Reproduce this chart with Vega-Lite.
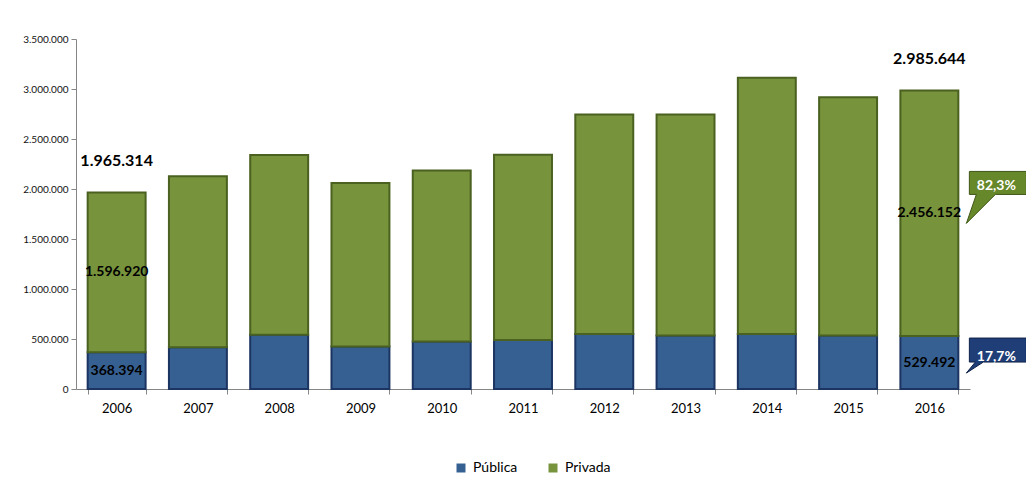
{
  "$schema": "https://vega.github.io/schema/vega-lite/v6.json",
  "width": 894,
  "height": 350,
  "autosize": {"type": "none"},
  "padding": {"left": 76, "top": 39, "right": 56, "bottom": 100},
  "background": "white",
  "config": {
    "locale": {"number": {"decimal": ",", "thousands": ".", "grouping": [3], "currency": ["", " €"]}},
    "view": {"stroke": null},
    "font": "Lato"
  },
  "data": {
    "values": [
      {"year": "2006", "tipo": "Pública", "value": 368394},
      {"year": "2006", "tipo": "Privada", "value": 1596920},
      {"year": "2007", "tipo": "Pública", "value": 418000},
      {"year": "2007", "tipo": "Privada", "value": 1710000},
      {"year": "2008", "tipo": "Pública", "value": 542000},
      {"year": "2008", "tipo": "Privada", "value": 1798000},
      {"year": "2009", "tipo": "Pública", "value": 424000},
      {"year": "2009", "tipo": "Privada", "value": 1635000},
      {"year": "2010", "tipo": "Pública", "value": 474000},
      {"year": "2010", "tipo": "Privada", "value": 1710000},
      {"year": "2011", "tipo": "Pública", "value": 491000},
      {"year": "2011", "tipo": "Privada", "value": 1852000},
      {"year": "2012", "tipo": "Pública", "value": 549000},
      {"year": "2012", "tipo": "Privada", "value": 2195000},
      {"year": "2013", "tipo": "Pública", "value": 535000},
      {"year": "2013", "tipo": "Privada", "value": 2209000},
      {"year": "2014", "tipo": "Pública", "value": 549000},
      {"year": "2014", "tipo": "Privada", "value": 2563000},
      {"year": "2015", "tipo": "Pública", "value": 535000},
      {"year": "2015", "tipo": "Privada", "value": 2383000},
      {"year": "2016", "tipo": "Pública", "value": 529492, "pct": "17,7%"},
      {"year": "2016", "tipo": "Privada", "value": 2456152, "pct": "82,3%"}
    ]
  },
  "layer": [
    {
      "mark": {"type": "bar", "strokeWidth": 2},
      "encoding": {
        "x": {
          "field": "year", "type": "ordinal",
          "scale": {"paddingInner": 0.287, "paddingOuter": 0.1435},
          "axis": {
            "title": null, "labelAngle": 0, "tickBand": "extent",
            "domainColor": "#868686", "tickColor": "#868686", "tickSize": 5,
            "labelFontSize": 13, "labelColor": "#000", "labelPadding": 8, "labelFont": "Lato"
          }
        },
        "y": {
          "field": "value", "type": "quantitative", "stack": "zero",
          "scale": {"domain": [0, 3500000], "nice": false},
          "axis": {
            "title": null,
            "values": [0, 500000, 1000000, 1500000, 2000000, 2500000, 3000000, 3500000],
            "format": ",d", "labelFontSize": 10, "labelColor": "#111", "labelFont": "Lato",
            "domainColor": "#868686", "tickColor": "#868686", "tickSize": 5,
            "grid": false, "labelPadding": 3
          }
        },
        "color": {
          "field": "tipo", "type": "nominal",
          "scale": {"domain": ["Pública", "Privada"], "range": ["#376092", "#77933c"]},
          "legend": {
            "title": null, "orient": "none", "legendX": 378, "legendY": 422,
            "direction": "horizontal", "symbolType": "square", "symbolSize": 81,
            "labelFontSize": 14, "labelFont": "Lato", "labelColor": "#000",
            "columnPadding": 28, "labelOffset": 5, "symbolStrokeWidth": 0
          }
        },
        "stroke": {
          "field": "tipo", "type": "nominal",
          "scale": {"domain": ["Pública", "Privada"], "range": ["#1b3461", "#4a6120"]},
          "legend": null
        },
        "order": {"field": "tipo", "sort": "descending"}
      }
    },
    {
      "transform": [{"filter": {"field": "year", "oneOf": ["2006", "2016"]}}],
      "mark": {"type": "text", "fontWeight": "bold", "fontSize": 14, "color": "#000", "font": "Lato"},
      "encoding": {
        "x": {"field": "year", "type": "ordinal"},
        "y": {"field": "value", "type": "quantitative", "stack": "zero", "bandPosition": 0.5},
        "detail": {"field": "tipo"},
        "order": {"field": "tipo", "sort": "descending"},
        "text": {"field": "value", "type": "quantitative", "format": ",d"}
      }
    },
    {
      "transform": [{"filter": {"field": "year", "oneOf": ["2006", "2016"]}}],
      "mark": {"type": "text", "fontWeight": "bold", "fontSize": 16, "color": "#000", "font": "Lato", "yOffset": -31},
      "encoding": {
        "x": {"field": "year", "type": "ordinal"},
        "y": {"aggregate": "sum", "field": "value", "type": "quantitative"},
        "text": {"aggregate": "sum", "field": "value", "type": "quantitative", "format": ",d"}
      }
    },
    {
      "transform": [
        {"filter": {"field": "year", "equal": "2016"}},
        {"stack": "value", "groupby": ["year"], "sort": [{"field": "tipo", "order": "descending"}], "as": ["v0", "v1"]},
        {"filter": {"field": "tipo", "equal": "Privada"}}
      ],
      "mark": {
        "type": "point", "filled": true, "opacity": 1, "size": 4, "strokeWidth": 1,
        "shape": "M40,81 L97,81 L97,104 L66,104 L37,133 L47,104 L40,104 Z",
        "fill": "#66882a", "stroke": "#3f5618"
      },
      "encoding": {
        "x": {"field": "year", "type": "ordinal"},
        "y": {"field": "v1", "type": "quantitative"}
      }
    },
    {
      "transform": [
        {"filter": {"field": "year", "equal": "2016"}},
        {"stack": "value", "groupby": ["year"], "sort": [{"field": "tipo", "order": "descending"}], "as": ["v0", "v1"]},
        {"filter": {"field": "tipo", "equal": "Pública"}}
      ],
      "mark": {
        "type": "point", "filled": true, "opacity": 1, "size": 4, "strokeWidth": 1,
        "shape": "M40,2 L97,2 L97,26 L54,26 L37,37 L46,26 L40,26 Z",
        "fill": "#1f3e78", "stroke": "#0e2148"
      },
      "encoding": {
        "x": {"field": "year", "type": "ordinal"},
        "y": {"field": "v1", "type": "quantitative"}
      }
    },
    {
      "transform": [{"filter": {"field": "year", "equal": "2016"}}],
      "mark": {"type": "text", "fontWeight": "bold", "fontSize": 14, "color": "white", "font": "Lato", "xOffset": 67},
      "encoding": {
        "x": {"field": "year", "type": "ordinal"},
        "y": {"field": "value", "type": "quantitative", "stack": "zero", "bandPosition": 0.61},
        "detail": {"field": "tipo"},
        "order": {"field": "tipo", "sort": "descending"},
        "text": {"field": "pct", "type": "nominal"}
      }
    }
  ]
}
